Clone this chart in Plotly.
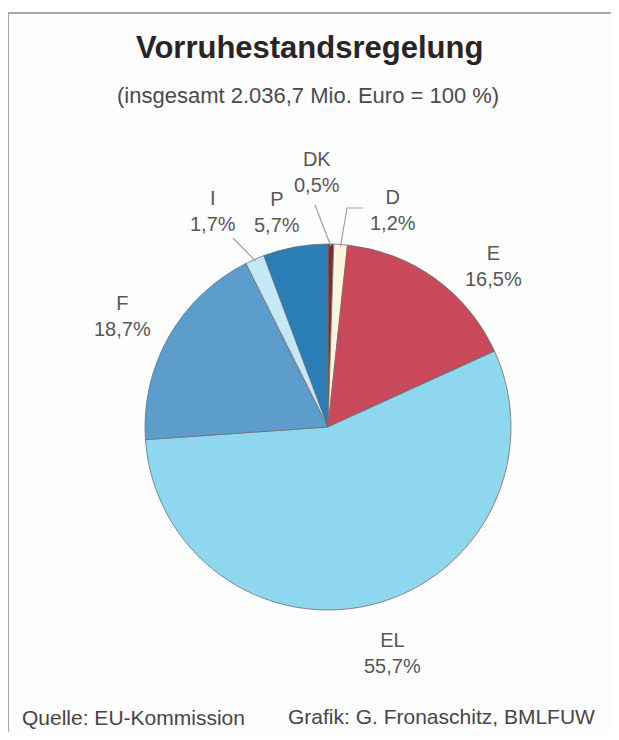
import math
import plotly.graph_objects as go

# ---- data ----
countries = ["DK", "D", "E", "EL", "F", "I", "P"]
shares = [0.5, 1.2, 16.5, 55.7, 18.7, 1.7, 5.7]
colors = ["#7d2b3b", "#fcf4dd", "#c9495b", "#8fd7ef", "#5d9dcc", "#c6e7f5", "#2b7db5"]

title_text = "Vorruhestandsregelung"
subtitle_text = "(insgesamt 2.036,7 Mio. Euro = 100 %)"
source_text = "Quelle: EU-Kommission"
credit_text = "Grafik: G. Fronaschitz, BMLFUW"

# ---- layout (screen pixels; page body has an 8px margin) ----
OFF = 8
W, H = 603, 724
CX, CY, R = 328, 427, 183

# label centres in screen pixels (layout only)
label_pos = {
    "DK": (317, 172),
    "D": (393, 210),
    "P": (277, 212),
    "I": (213, 211),
    "E": (493, 266),
    "F": (122, 316),
    "EL": (392, 653),
}
# leader line end points for small slices (layout only)
leader_ends = {
    "DK": [(315, 205)],
    "D": [(347, 208), (363, 208)],
    "I": [(233, 238)],
}

def px(x):
    return (x - OFF) / W

def py(y):
    return 1 - (y - OFF) / H

FONT = "Liberation Sans, Arial, sans-serif"

fig = go.Figure()
fig.add_trace(go.Pie(
    labels=countries,
    values=shares,
    sort=False,
    direction="clockwise",
    rotation=0,
    marker=dict(colors=colors, line=dict(color="#6f6f73", width=0.8)),
    textinfo="none",
    hoverinfo="label+percent",
    showlegend=False,
    domain=dict(x=[px(CX - R), px(CX + R)], y=[py(CY + R), py(CY - R)]),
))

annotations = []
shapes = []

# frame
shapes.append(dict(type="rect", xref="paper", yref="paper",
                   x0=px(8), x1=1.2, y0=-0.2, y1=py(13),
                   line=dict(color="#a9a7aa", width=2), fillcolor="#fdfdfd", layer="below"))

# labels from data
total = sum(shares)
cum = 0.0
for name, v in zip(countries, shares):
    mid = (cum + v / 2) / total * 2 * math.pi
    cum += v
    lx, ly = label_pos[name]
    txt = f"{name}<br>{v:.1f}%".replace(".", ",")
    annotations.append(dict(x=px(lx), y=py(ly), xref="paper", yref="paper",
                            text=txt, showarrow=False, xanchor="center", yanchor="middle",
                            font=dict(family=FONT, size=20, color="#5a5658")))
    if name in leader_ends:
        sx = CX + (R - 2) * math.sin(mid)
        sy = CY - (R - 2) * math.cos(mid)
        pts = [(sx, sy)] + leader_ends[name]
        path = "M " + " L ".join(f"{px(a)},{py(b)}" for a, b in pts)
        shapes.append(dict(type="path", xref="paper", yref="paper", path=path,
                           line=dict(color="#a0a0a0", width=1.2)))

annotations.append(dict(x=px(309), y=py(47), xref="paper", yref="paper", text=f"<b>{title_text}</b>",
                        showarrow=False, xanchor="center", yanchor="middle",
                        font=dict(family=FONT, size=31, color="#2b2426")))
annotations.append(dict(x=px(308), y=py(95), xref="paper", yref="paper", text=subtitle_text,
                        showarrow=False, xanchor="center", yanchor="middle",
                        font=dict(family=FONT, size=22, color="#4d494b")))
annotations.append(dict(x=px(20), y=py(717), xref="paper", yref="paper", text=source_text,
                        showarrow=False, xanchor="left", yanchor="middle",
                        font=dict(family=FONT, size=21, color="#4a4446")))
annotations.append(dict(x=px(597), y=py(716), xref="paper", yref="paper", text=credit_text,
                        showarrow=False, xanchor="right", yanchor="middle",
                        font=dict(family=FONT, size=21, color="#4a4446")))

fig.update_layout(
    width=W, height=H,
    margin=dict(l=0, r=0, t=0, b=0),
    paper_bgcolor="#ffffff",
    plot_bgcolor="#ffffff",
    annotations=annotations,
    shapes=shapes,
)

fig.write_html("out.html")
